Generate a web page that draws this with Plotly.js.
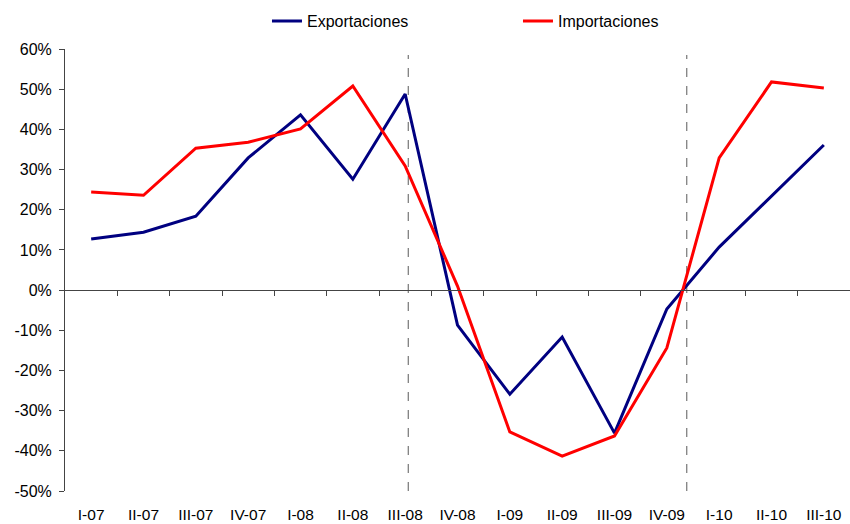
<!DOCTYPE html>
<html>
<head>
<meta charset="utf-8">
<script src="https://cdn.plot.ly/plotly-3.0.1.min.js"></script>
<style>html,body{margin:0;padding:0;background:#fff}#chart{width:850px;height:524px}</style>
</head>
<body>
<div id="chart"></div>
<script>
const quarters = ["I-07","II-07","III-07","IV-07","I-08","II-08","III-08","IV-08","I-09","II-09","III-09","IV-09","I-10","II-10","III-10"];
const exportaciones = [12.7,14.4,18.4,32.9,43.6,27.6,48.8,-8.7,-25.9,-11.7,-35.6,-4.7,10.7,23.4,36.1];
const importaciones = [24.4,23.6,35.3,36.8,40.1,50.8,30.9,1.0,-35.3,-41.3,-36.3,-14.4,32.9,51.8,50.3];
const yTicks = [-50,-40,-30,-20,-10,0,10,20,30,40,50,60];
const yTickText = yTicks.map(v => v + "%");
const dashedAt = [6.06, 11.38];

const font = {family: "Liberation Sans, Arial, sans-serif", size: 16, color: "#000"};
const xfont = {family: "Liberation Sans, Arial, sans-serif", size: 15.5, color: "#000"};
const idx = quarters.map((q,i)=>i);
const boundaries = quarters.slice(1).map((q,i)=>i+0.5).concat([quarters.length-0.5]);

const traces = [
  {x: idx, y: exportaciones, type: "scatter", mode: "lines", name: "Exportaciones",
   line: {color: "#000080", width: 3}, xaxis: "x", yaxis: "y"},
  {x: idx, y: importaciones, type: "scatter", mode: "lines", name: "Importaciones",
   line: {color: "#FF0000", width: 3}, xaxis: "x", yaxis: "y"},
  {x: [null], y: [null], type: "scatter", mode: "lines", showlegend: false, hoverinfo: "skip",
   xaxis: "x2", yaxis: "y"}
];

const shapes = dashedAt.map(v => ({type: "line", xref: "x", yref: "y", x0: v, x1: v, y0: -50, y1: 58.5,
  line: {color: "#808080", width: 1.3, dash: "dash"}, layer: "below"}));

const layout = {
  width: 850, height: 524,
  margin: {l: 65, r: 0, t: 49, b: 33, pad: 0, autoexpand: false},
  paper_bgcolor: "#fff", plot_bgcolor: "#fff",
  font: font,
  showlegend: true,
  legend: {orientation: "h", x: 0.2573, xanchor: "left", y: 1.063, yanchor: "middle",
    entrywidth: 206, entrywidthmode: "pixels", font: font, bgcolor: "rgba(0,0,0,0)", borderwidth: 0},
  xaxis: {type: "linear", range: [-0.5, quarters.length - 0.5], tickmode: "array", tickvals: idx, ticktext: quarters,
    showgrid: false, zeroline: false, showline: false, ticks: "outside", ticklen: 9, tickcolor: "rgba(0,0,0,0)",
    tickfont: xfont, fixedrange: true, automargin: false},
  xaxis2: {type: "linear", overlaying: "x", anchor: "free", position: 50/110, range: [-0.5, quarters.length - 0.5],
    tickmode: "array", tickvals: boundaries, showticklabels: false, ticks: "outside", ticklen: 5, tickwidth: 1,
    tickcolor: "#444", showline: true, linecolor: "#444", linewidth: 1, showgrid: false, zeroline: false, side: "bottom",
    automargin: false},
  yaxis: {range: [-50, 60], tickmode: "array", tickvals: yTicks, ticktext: yTickText, showgrid: false, zeroline: false,
    showline: true, linecolor: "#444", linewidth: 1, ticks: "outside", ticklen: 5, tickcolor: "#444",
    ticklabelstandoff: 4, tickfont: font, fixedrange: true, automargin: false},
  shapes: shapes
};

Plotly.newPlot("chart", traces, layout, {displayModeBar: false, staticPlot: true});
</script>
</body>
</html>
